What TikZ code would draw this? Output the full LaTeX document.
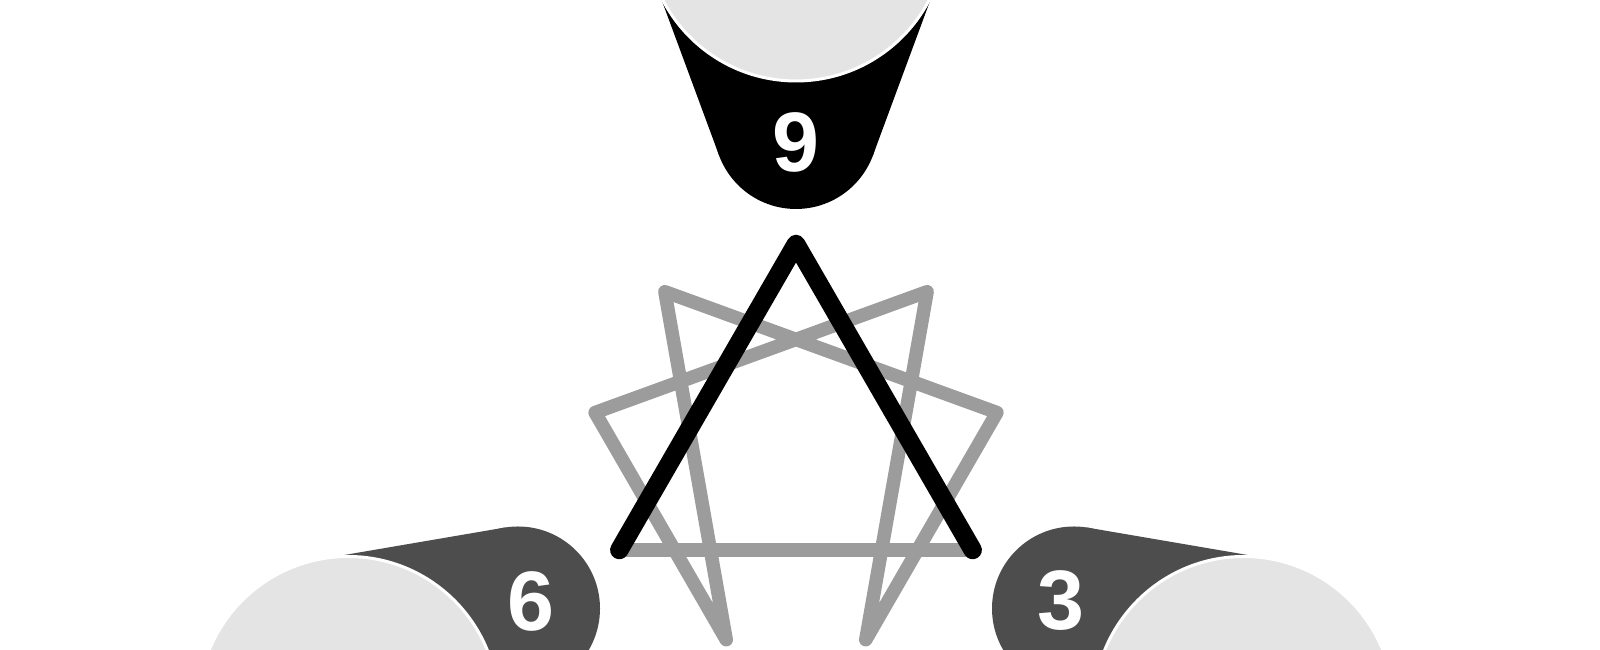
\documentclass[tikz,border=0pt]{standalone}
\usepackage{fontspec}
\setmainfont{Liberation Sans}
\usetikzlibrary{calc}

\definecolor{conedark}{HTML}{4D4D4D}
\definecolor{capgray}{HTML}{E4E4E4}
\definecolor{stargray}{HTML}{9C9C9C}

\begin{document}
\begin{tikzpicture}[x=0.1mm,y=0.1mm,
    starline/.style={stargray,line width=1.35mm,line cap=round,line join=round},
    triline/.style={black,line width=1.85mm,line cap=round,line join=round},
    capdisc/.style={fill=capgray,draw=white,line width=0.3mm},
    typelabel/.style={text=white,inner sep=0pt,font=\bfseries\fontsize{24}{24}\selectfont}]
    \useasboundingbox (0,0) rectangle (1600,650);

    % Centre of the enneagram
    \coordinate (c) at (796,202);

    % Points on the circle
    \foreach \n in {1,...,9}
        \coordinate (p\n) at ($(c)+({90-40*\n}:204)$);

    % Type 9
    \coordinate (s9) at ($(c)+(90:321)$);
    \coordinate (b9) at ($(c)+(90:517)$);
    \fill[black] (s9) circle (82) (b9) circle (150);
    \fill[black] ($(s9)+(201:82)$) -- ($(b9)+(201:150)$)
        -- ($(b9)+(-21:150)$) -- ($(s9)+(-21:82)$) -- cycle;
    \draw[capdisc] (b9) circle (150);
    \node (n9) [typelabel] at ($(c)+(90:306)$) {9};

    % Type 3
    \coordinate (s3) at ($(c)+(-30:321)$);
    \coordinate (b3) at ($(c)+(-30:517)$);
    \fill[conedark] (s3) circle (82) (b3) circle (150);
    \fill[conedark] ($(s3)+(81:82)$) -- ($(b3)+(81:150)$)
        -- ($(b3)+(-141:150)$) -- ($(s3)+(-141:82)$) -- cycle;
    \draw[capdisc] (b3) circle (150);
    \node (n3) [typelabel] at ($(c)+(-30:306)$) {3};

    % Type 6
    \coordinate (s6) at ($(c)+(210:321)$);
    \coordinate (b6) at ($(c)+(210:517)$);
    \fill[conedark] (s6) circle (82) (b6) circle (150);
    \fill[conedark] ($(s6)+(321:82)$) -- ($(b6)+(321:150)$)
        -- ($(b6)+(99:150)$) -- ($(s6)+(99:82)$) -- cycle;
    \draw[capdisc] (b6) circle (150);
    \node (n6) [typelabel] at ($(c)+(210:306)$) {6};

    % Hexad and base of the triangle
    \draw[starline] (p1) -- (p4) -- (p2) -- (p8) -- (p5) -- (p7) -- cycle;
    \draw[starline] (p6) -- (p3);

    % Triangle 6-9-3
    \draw[triline] (p6) -- (p9) -- (p3);
\end{tikzpicture}
\end{document}
